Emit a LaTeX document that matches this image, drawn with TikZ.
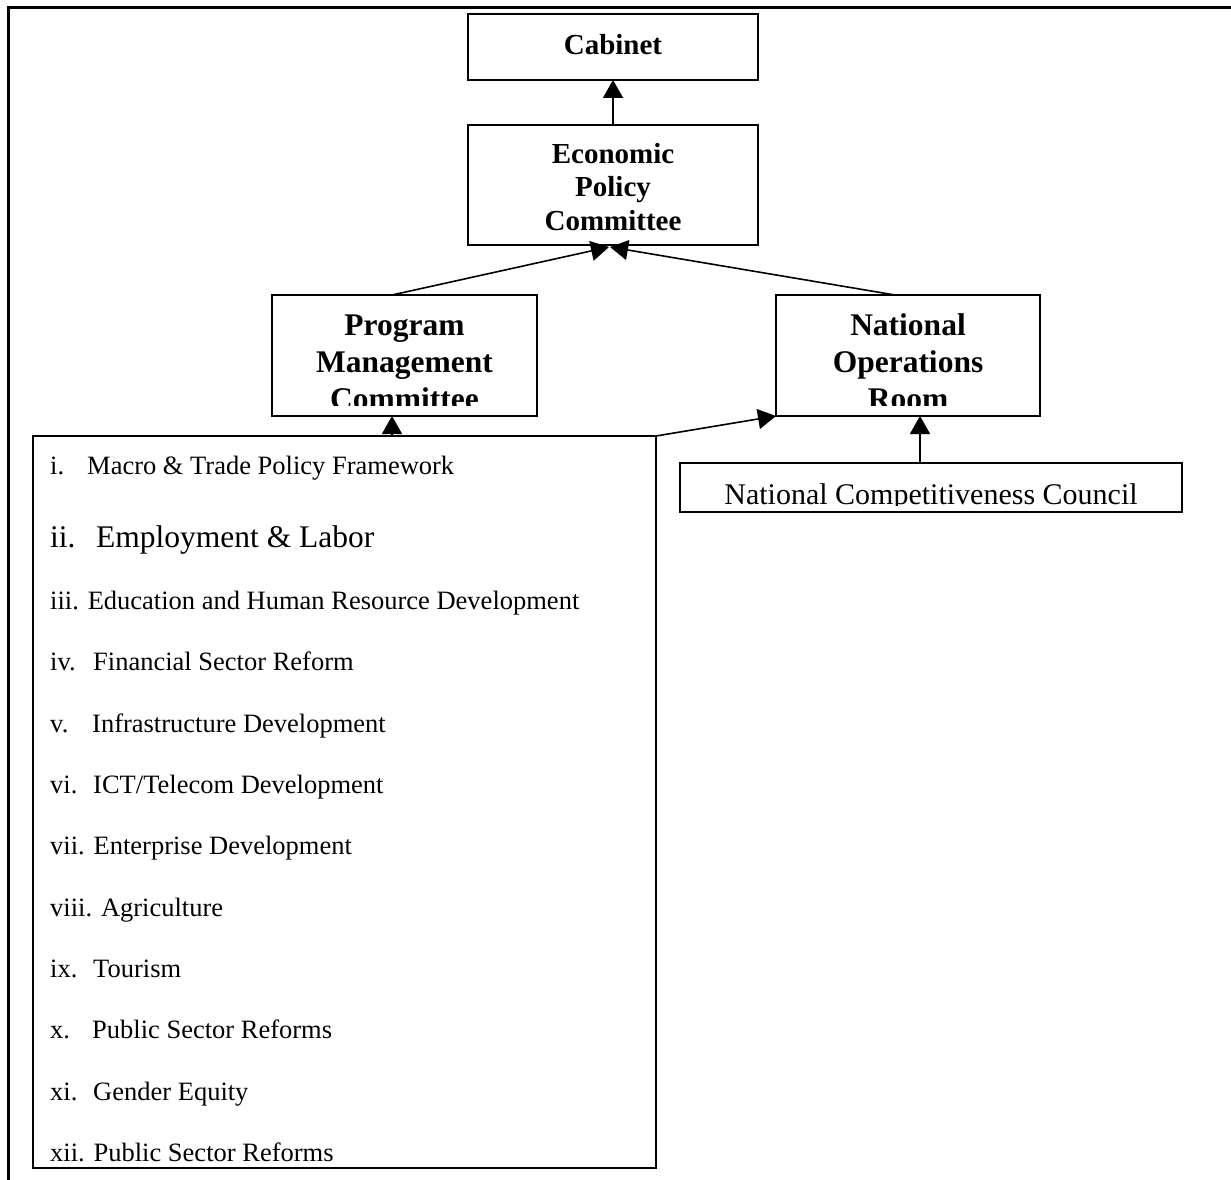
\documentclass[tikz,border=0pt]{standalone}
\usepackage{fontspec}
\setmainfont{Liberation Serif}
\usetikzlibrary{arrows.meta}
\begin{document}
\begin{tikzpicture}[x=1pt,y=-1pt,
  box/.style={draw, line width=1.3pt, rectangle, inner sep=0pt, outer sep=0pt},
  bl/.style={font=\bfseries\fontsize{29}{33.5}\selectfont, inner sep=0pt, anchor=base},
  blb/.style={font=\bfseries\fontsize{31.5}{37}\selectfont, inner sep=0pt, anchor=base},
  ncct/.style={font=\fontsize{30}{34}\selectfont, inner sep=0pt, anchor=base},
  itm/.style={font=\fontsize{26.5}{30}\selectfont, inner sep=0pt, anchor=base west},
  itmbig/.style={font=\fontsize{31.5}{36}\selectfont, inner sep=0pt, anchor=base west},
  arr/.style={-{Triangle[length=18pt,width=20pt]}, line width=1.6pt}]
\useasboundingbox (0,0) rectangle (1231,1180);
% outer frame
\draw[line width=3pt] (8.5,1180) -- (8.5,7.5) -- (1231,7.5);

% boxes
\node[box, minimum width=290pt, minimum height=66pt] (cab) at (613,47) {};
\node[box, minimum width=290pt, minimum height=120pt] (epc) at (613,185) {};
\node[box, minimum width=265pt, minimum height=121pt] (pmc) at (404.5,355.5) {};
\node[box, minimum width=264pt, minimum height=121pt] (nor) at (908,355.5) {};
\node[box, minimum width=502pt, minimum height=49pt] (ncc) at (931,487.5) {};
\node[box, minimum width=623pt, minimum height=732pt] (list) at (344.5,802) {};

% labels
\node[bl] (cabt) at (613,54.5) {Cabinet};
\node[bl] (epc1) at (613,163) {Economic};
\node[bl] (epc2) at (613,196.5) {Policy};
\node[bl] (epc3) at (613,230) {Committee};

\begin{scope}
\clip (pmc.north west) rectangle ([yshift=11pt]pmc.south east);
\node[blb] (pmc1) at (404.5,335) {Program};
\node[blb] (pmc2) at (404.5,372) {Management};
\node[blb] (pmc3) at (404.5,409) {Committee};
\end{scope}

\begin{scope}
\clip (nor.north west) rectangle ([yshift=11pt]nor.south east);
\node[blb] (nor1) at (908,335) {National};
\node[blb] (nor2) at (908,372) {Operations};
\node[blb] (nor3) at (908,409) {Room};
\end{scope}

\begin{scope}
\clip (ncc.north west) rectangle ([yshift=7pt]ncc.south east);
\node[ncct] (ncct) at (931,504) {National Competitiveness Council};
\end{scope}

\begin{scope}
\clip (list.north west) rectangle ([yshift=6pt]list.south east);
\node[itm] (l1) at (50,474.5) {i.};
\node[itm] (t1) at (87,474.5) {Macro \& Trade Policy Framework};
\node[itmbig] (l2) at (50,547.5) {ii.};
\node[itmbig] (t2) at (96,547.5) {Employment \& Labor};
\node[itm] (l3) at (50,609.5) {iii. Education and Human Resource Development};
\node[itm] (l4) at (50,670.5) {iv.};
\node[itm] (t4) at (93,670.5) {Financial Sector Reform};
\node[itm] (l5) at (50,732.5) {v.};
\node[itm] (t5) at (92,732.5) {Infrastructure Development};
\node[itm] (l6) at (50,793.5) {vi.};
\node[itm] (t6) at (93,793.5) {ICT/Telecom Development};
\node[itm] (l7) at (50,854.5) {vii. Enterprise Development};
\node[itm] (l8) at (50,916.5) {viii. Agriculture};
\node[itm] (l9) at (50,977.5) {ix.};
\node[itm] (t9) at (93,977.5) {Tourism};
\node[itm] (l10) at (50,1038.5) {x.};
\node[itm] (t10) at (92,1038.5) {Public Sector Reforms};
\node[itm] (l11) at (50,1100.5) {xi.};
\node[itm] (t11) at (93,1100.5) {Gender Equity};
\node[itm] (l12) at (50,1161.5) {xii. Public Sector Reforms};
\end{scope}

% connectors
\draw[arr] (epc.north) -- (cab.south);
\draw[arr] ([xshift=-12.5pt]pmc.north) -- ([xshift=-4pt,yshift=-2pt]epc.south);
\draw[arr] ([xshift=-13pt]nor.north) -- ([xshift=-3pt,yshift=-2pt]epc.south);
\draw[arr] ([xshift=-12.5pt]pmc.south |- list.north) -- ([xshift=-12.5pt]pmc.south);
\draw[arr] (list.north east) -- (nor.south west);
\draw[arr] ([xshift=12pt]nor.south |- ncc.north) -- ([xshift=12pt]nor.south);
\end{tikzpicture}
\end{document}
